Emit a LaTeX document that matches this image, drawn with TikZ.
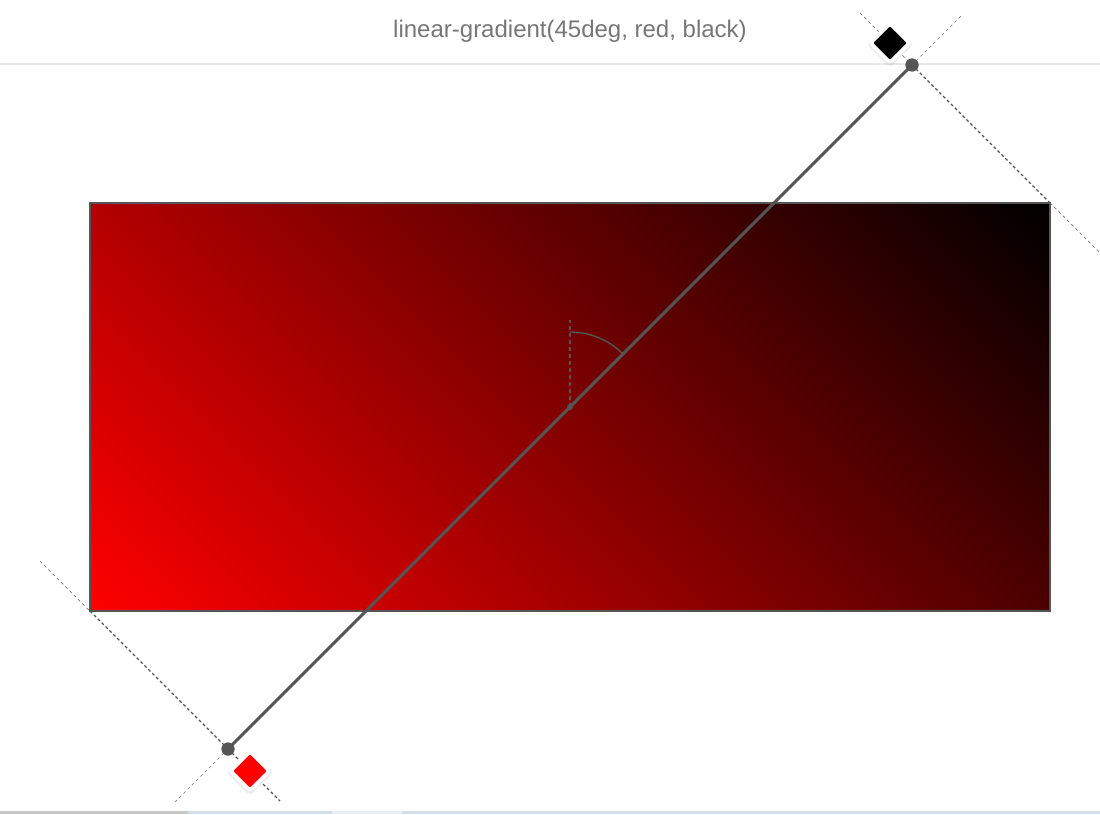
\documentclass[tikz,border=0pt]{standalone}
\usepackage{fontspec}
\setmainfont{Liberation Sans}
\usetikzlibrary{shadows}
\definecolor{linegray}{HTML}{555555}
\definecolor{titlegray}{HTML}{777777}
\definecolor{rulegray}{HTML}{E8E8E8}
\definecolor{stripgray}{HTML}{C8C8C8}
\definecolor{stripblue}{HTML}{D2DEE8}
\definecolor{striplight}{HTML}{E8EEF2}
\begin{document}
\begin{tikzpicture}[x=1pt,y=-1pt,
  heavyguide/.style={draw=linegray, line width=1.1pt, dash pattern=on 3pt off 2.5pt},
  faintguide/.style={draw=linegray!80, line width=0.7pt, dash pattern=on 3pt off 3pt},
  axisline/.style={draw=linegray, line width=3pt},
  handle/.style={circle, fill=linegray, inner sep=0pt, minimum size=13pt},
  centerdot/.style={circle, fill=linegray, inner sep=0pt, minimum size=6pt},
  stopbox/.style={rectangle, rounded corners=3.5pt, rotate=45, minimum size=28pt, inner sep=0pt,
    draw=white, line width=4pt,
    drop shadow={opacity=0.16, shadow xshift=0pt, shadow yshift=-1pt, shadow scale=1.18}},
  rectborder/.style={draw=linegray, line width=1.6pt},
  anglemark/.style={draw=linegray, line width=1.4pt},
]
\useasboundingbox (0,0) rectangle (1100,814);
\fill[white] (0,0) rectangle (1100,814);

% title and rule
\node[text=titlegray, font=\fontsize{24}{29}\selectfont, anchor=base, inner sep=0pt] (title) at (570,37) {linear-gradient(45deg, red, black)};
\draw[rulegray, line width=1.5pt] (0,64) -- (1100,64);

% gradient box
\begin{scope}
  \clip (90,203) rectangle (1050,611);
  \shade[top color=red, bottom color=black, shading angle=135] (86.3,-76.7) rectangle (1053.7,890.7);
\end{scope}
\draw[rectborder] (90,203) rectangle (1050,611);

% coordinates
\coordinate (C) at (570,407);
\coordinate (BL) at (90,611);
\coordinate (TR) at (1050,203);
\coordinate (blA) at (40,561);
\coordinate (blB) at (280,801);
\coordinate (trA) at (860,13);
\coordinate (trB) at (1100,253);
\coordinate (extS) at (175,802);
\coordinate (extE) at (963,14);
\coordinate (vtop) at (570,320);
\coordinate (arcstart) at (570,332);

\node[handle] (S) at (228,749) {};
\node[handle] (E) at (912,65) {};

% perpendicular guides
\draw[faintguide] (blA) -- (BL);
\draw[heavyguide] (BL) -- (S.center);
\draw[heavyguide] (S.center) -- (blB);
\draw[faintguide] (trA) -- (E.center);
\draw[heavyguide] (E.center) -- (TR);
\draw[faintguide] (TR) -- (trB);
% axis extensions
\draw[faintguide, line width=0.5pt] (S.center) -- (extS);
\draw[faintguide, line width=0.5pt] (E.center) -- (extE);

% angle marker
\draw[anglemark, dash pattern=on 4pt off 3pt] (C) -- (vtop);
\draw[anglemark] (arcstart) arc[start angle=-90, end angle=-45, radius=75];

% gradient line
\draw[axisline] (S.center) -- (E.center);
\node[handle] at (S.center) {};
\node[handle] at (E.center) {};
\node[centerdot] (Cdot) at (C) {};

% colour stops
\node[stopbox, fill=black] (stopBlack) at (890,43) {};
\node[stopbox, fill=red] (stopRed) at (250,771) {};

% bottom strip
\fill[stripgray] (0,811) rectangle (188,814);
\fill[stripblue] (188,811) rectangle (332,814);
\fill[striplight] (332,811) rectangle (402,814);
\fill[stripblue] (402,811) rectangle (1100,814);
\end{tikzpicture}
\end{document}
